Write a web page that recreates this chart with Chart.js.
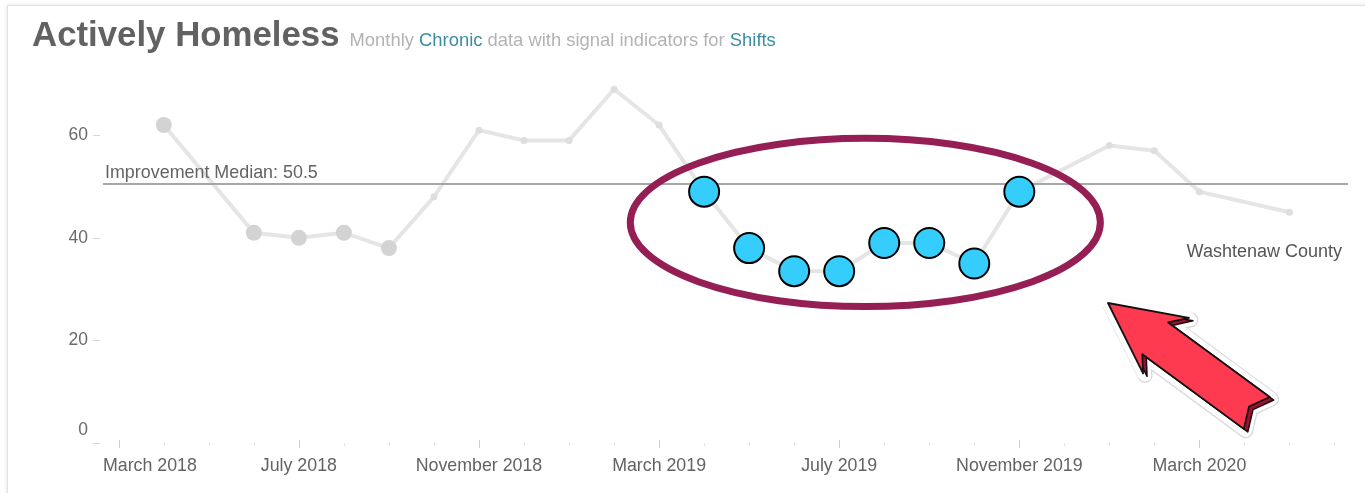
<!DOCTYPE html>
<html>
<head>
<meta charset="utf-8">
<title>Actively Homeless</title>
<script src="https://cdn.jsdelivr.net/npm/chart.js@4.4.1/dist/chart.umd.min.js"></script>
<style>
  html, body { margin: 0; padding: 0; background: #fff; }
  body { width: 1365px; height: 493px; overflow: hidden; position: relative; font-family: "Liberation Sans", Arial, sans-serif; }
  #frame { position: absolute; left: 7px; top: 5px; width: 1380px; height: 500px; border: 1px solid #e2e2e2; box-shadow: 0 0 4px rgba(0,0,0,0.12); }
  #head { position: absolute; left: 32px; top: 17px; display: flex; align-items: baseline; white-space: nowrap; z-index: 2; }
  #head h1 { margin: 0; font-size: 34.8px; font-weight: bold; color: #626262; line-height: 1; }
  #head .sub { margin-left: 10px; font-size: 18.4px; color: #b3b3b3; }
  #head .hl { color: #3a8da3; }
  #chart { position: absolute; left: 0; top: 0; z-index: 1; }
</style>
</head>
<body>
<div id="frame"></div>
<div id="head">
  <h1>Actively Homeless</h1>
  <span class="sub">Monthly <span class="hl">Chronic</span> data with signal indicators for <span class="hl">Shifts</span></span>
</div>
<canvas id="chart" width="1365" height="493"></canvas>
<script>
// months on the x axis (index 0 = March 2018)
const months = [
  "Mar 2018", "Apr 2018", "May 2018", "Jun 2018", "Jul 2018", "Aug 2018", "Sep 2018",
  "Oct 2018", "Nov 2018", "Dec 2018", "Jan 2019", "Feb 2019", "Mar 2019", "Apr 2019",
  "May 2019", "Jun 2019", "Jul 2019", "Aug 2019", "Sep 2019", "Oct 2019", "Nov 2019",
  "Dec 2019", "Jan 2020", "Feb 2020", "Mar 2020", "Apr 2020", "May 2020", "Jun 2020"
];
// monthly chronic counts (null = no point)
const chronic = [
  null, 62, null, 41, 40, 41, 38,
  48, 61, 59, 59, 69, 62, 49,
  38, 33.5, 33.5, 39, 39, 35, 49,
  null, 58, 57, 49, null, 45, null
];
// months marked with the grey signal dots
const signalMonths = ["Apr 2018", "Jun 2018", "Jul 2018", "Aug 2018", "Sep 2018"];
// months highlighted as the shift
const shiftMonths = ["Apr 2019", "May 2019", "Jun 2019", "Jul 2019", "Aug 2019", "Sep 2019", "Oct 2019", "Nov 2019"];
// x tick labels
const tickMonths = ["Mar 2018", "Jul 2018", "Nov 2018", "Mar 2019", "Jul 2019", "Nov 2019", "Mar 2020"];
const tickLabels = ["March 2018", "July 2018", "November 2018", "March 2019", "July 2019", "November 2019", "March 2020"];
const yTicks = [0, 20, 40, 60];
const medianValue = 50.5;
const seriesName = "Washtenaw County";

const FONT = '"Liberation Sans", Arial, sans-serif';

const greyPoints = months.map((m, i) => ({ x: i, y: chronic[i] }));
const shiftPoints = months.map((m, i) => ({ x: i, y: shiftMonths.includes(m) ? chronic[i] : null }));

const decor = {
  id: "decor",
  beforeDatasetsDraw(chart) {
    const { ctx, chartArea, scales: { x, y } } = chart;
    ctx.save();
    // x ticks, one per month
    months.forEach((m, i) => {
      const px = Math.round(x.getPixelForValue(i)) + 0.5;
      const major = tickMonths.includes(m);
      ctx.strokeStyle = major ? "#cfcfcf" : "#e3e3e3";
      ctx.lineWidth = 1;
      ctx.beginPath();
      ctx.moveTo(px, major ? 440 : 443);
      ctx.lineTo(px, major ? 448 : 446);
      ctx.stroke();
    });
    ctx.font = "17.8px " + FONT;
    ctx.fillStyle = "#636363";
    ctx.textBaseline = "alphabetic";
    ctx.textAlign = "left";
    tickMonths.forEach((m, k) => {
      const px = x.getPixelForValue(months.indexOf(m));
      const w = ctx.measureText(tickLabels[k]).width;
      ctx.fillText(tickLabels[k], Math.max(px - w / 2, chartArea.left), 471);
    });
    // y ticks
    ctx.font = "17.5px " + FONT;
    ctx.textAlign = "right";
    ctx.textBaseline = "middle";
    ctx.fillStyle = "#6a6a6a";
    yTicks.forEach(v => {
      const py = Math.round(y.getPixelForValue(v)) + 0.5;
      ctx.strokeStyle = "#d6d6d6";
      ctx.beginPath();
      ctx.moveTo(93, py);
      ctx.lineTo(100, py);
      ctx.stroke();
      ctx.fillText(String(v), 88, v === 0 ? py - 13 : py);
    });
    ctx.restore();
  },
  beforeDatasetDraw(chart, args) {
    if (args.index !== 1) return;
    const { ctx, chartArea, scales: { y } } = chart;
    const py = y.getPixelForValue(medianValue);
    ctx.save();
    ctx.strokeStyle = "#a6a6a6";
    ctx.lineWidth = 2;
    ctx.beginPath();
    ctx.moveTo(chartArea.left, py);
    ctx.lineTo(chartArea.right, py);
    ctx.stroke();
    ctx.font = "17.9px " + FONT;
    ctx.fillStyle = "#636363";
    ctx.textAlign = "left";
    ctx.textBaseline = "alphabetic";
    ctx.fillText("Improvement Median: " + medianValue, chartArea.left + 2, py - 6);
    ctx.restore();
  },
  afterDatasetsDraw(chart) {
    const { ctx, chartArea, scales: { x, y } } = chart;
    ctx.save();
    // series label
    ctx.font = "18px " + FONT;
    ctx.fillStyle = "#555";
    ctx.textAlign = "right";
    ctx.textBaseline = "middle";
    ctx.fillText(seriesName, chartArea.right - 6, y.getPixelForValue(37.2));

    // ellipse round the shift
    const i0 = months.indexOf(shiftMonths[0]);
    const i1 = months.indexOf(shiftMonths[shiftMonths.length - 1]);
    const cx = x.getPixelForValue((i0 + i1) / 2 + 0.08);
    const cy = y.getPixelForValue(43);
    const rx = x.getPixelForValue(5.22) - x.getPixelForValue(0);
    const ry = y.getPixelForValue(0) - y.getPixelForValue(16.4);
    ctx.strokeStyle = "#951f55";
    ctx.lineWidth = 7;
    ctx.beginPath();
    ctx.ellipse(cx, cy, rx, ry, 0, 0, Math.PI * 2);
    ctx.stroke();

    // arrow pointing at the shift
    const tip = { x: x.getPixelForValue(21.97), y: y.getPixelForValue(27.3) };
    const tail = { x: x.getPixelForValue(25.27), y: y.getPixelForValue(6.0) };
    const ang = Math.atan2(tail.y - tip.y, tail.x - tip.x);
    const c = Math.cos(ang), s = Math.sin(ang);
    const shape = [[0, 0], [74, -36], [60, -20], [186, -20], [175, 0], [184, 21], [58, 21], [70, 36]];
    const path = (dx, dy) => {
      ctx.beginPath();
      shape.forEach(([u, v], k) => {
        const px = tip.x + u * c - v * s + dx;
        const py = tip.y + u * s + v * c + dy;
        if (k === 0) ctx.moveTo(px, py); else ctx.lineTo(px, py);
      });
      ctx.closePath();
    };
    ctx.lineJoin = "round";
    // sticker edge
    path(2, 2);
    ctx.strokeStyle = "rgba(0,0,0,0.14)";
    ctx.lineWidth = 15;
    ctx.stroke();
    path(2, 2);
    ctx.strokeStyle = "#fff";
    ctx.lineWidth = 12;
    ctx.stroke();
    path(0, 0);
    ctx.stroke();
    ctx.fillStyle = "#fff";
    ctx.fill();
    // dark extrusion
    path(4, 3);
    ctx.fillStyle = "#9c1131";
    ctx.fill();
    ctx.strokeStyle = "#1a0a0a";
    ctx.lineWidth = 1.5;
    ctx.stroke();
    // face
    path(0, 0);
    ctx.fillStyle = "#fe3a50";
    ctx.fill();
    ctx.strokeStyle = "#111";
    ctx.lineWidth = 1.8;
    ctx.stroke();
    ctx.restore();
  }
};

new Chart(document.getElementById("chart"), {
  type: "line",
  data: {
    datasets: [
      {
        label: seriesName,
        data: greyPoints,
        order: 2,
        borderColor: "#e5e5e5",
        borderWidth: 4,
        tension: 0,
        spanGaps: true,
        clip: false,
        pointRadius: ctx => signalMonths.includes(months[ctx.dataIndex]) ? 8 : 3.5,
        pointBackgroundColor: ctx => signalMonths.includes(months[ctx.dataIndex]) ? "#d3d3d3" : "#dedede",
        pointBorderWidth: 0
      },
      {
        label: "Shift",
        data: shiftPoints,
        order: 1,
        showLine: false,
        clip: false,
        pointRadius: 15,
        pointBackgroundColor: "#35cdfc",
        pointBorderColor: "#000",
        pointBorderWidth: 2
      }
    ]
  },
  options: {
    responsive: false,
    animation: false,
    events: [],
    layout: { padding: { left: 103, right: 17, top: 84, bottom: 50 } },
    plugins: { legend: { display: false }, tooltip: { enabled: false } },
    scales: {
      x: { type: "linear", display: false, min: -0.35, max: 27.3 },
      y: { display: false, min: 0, max: 70 }
    }
  },
  plugins: [decor]
});
</script>
</body>
</html>
